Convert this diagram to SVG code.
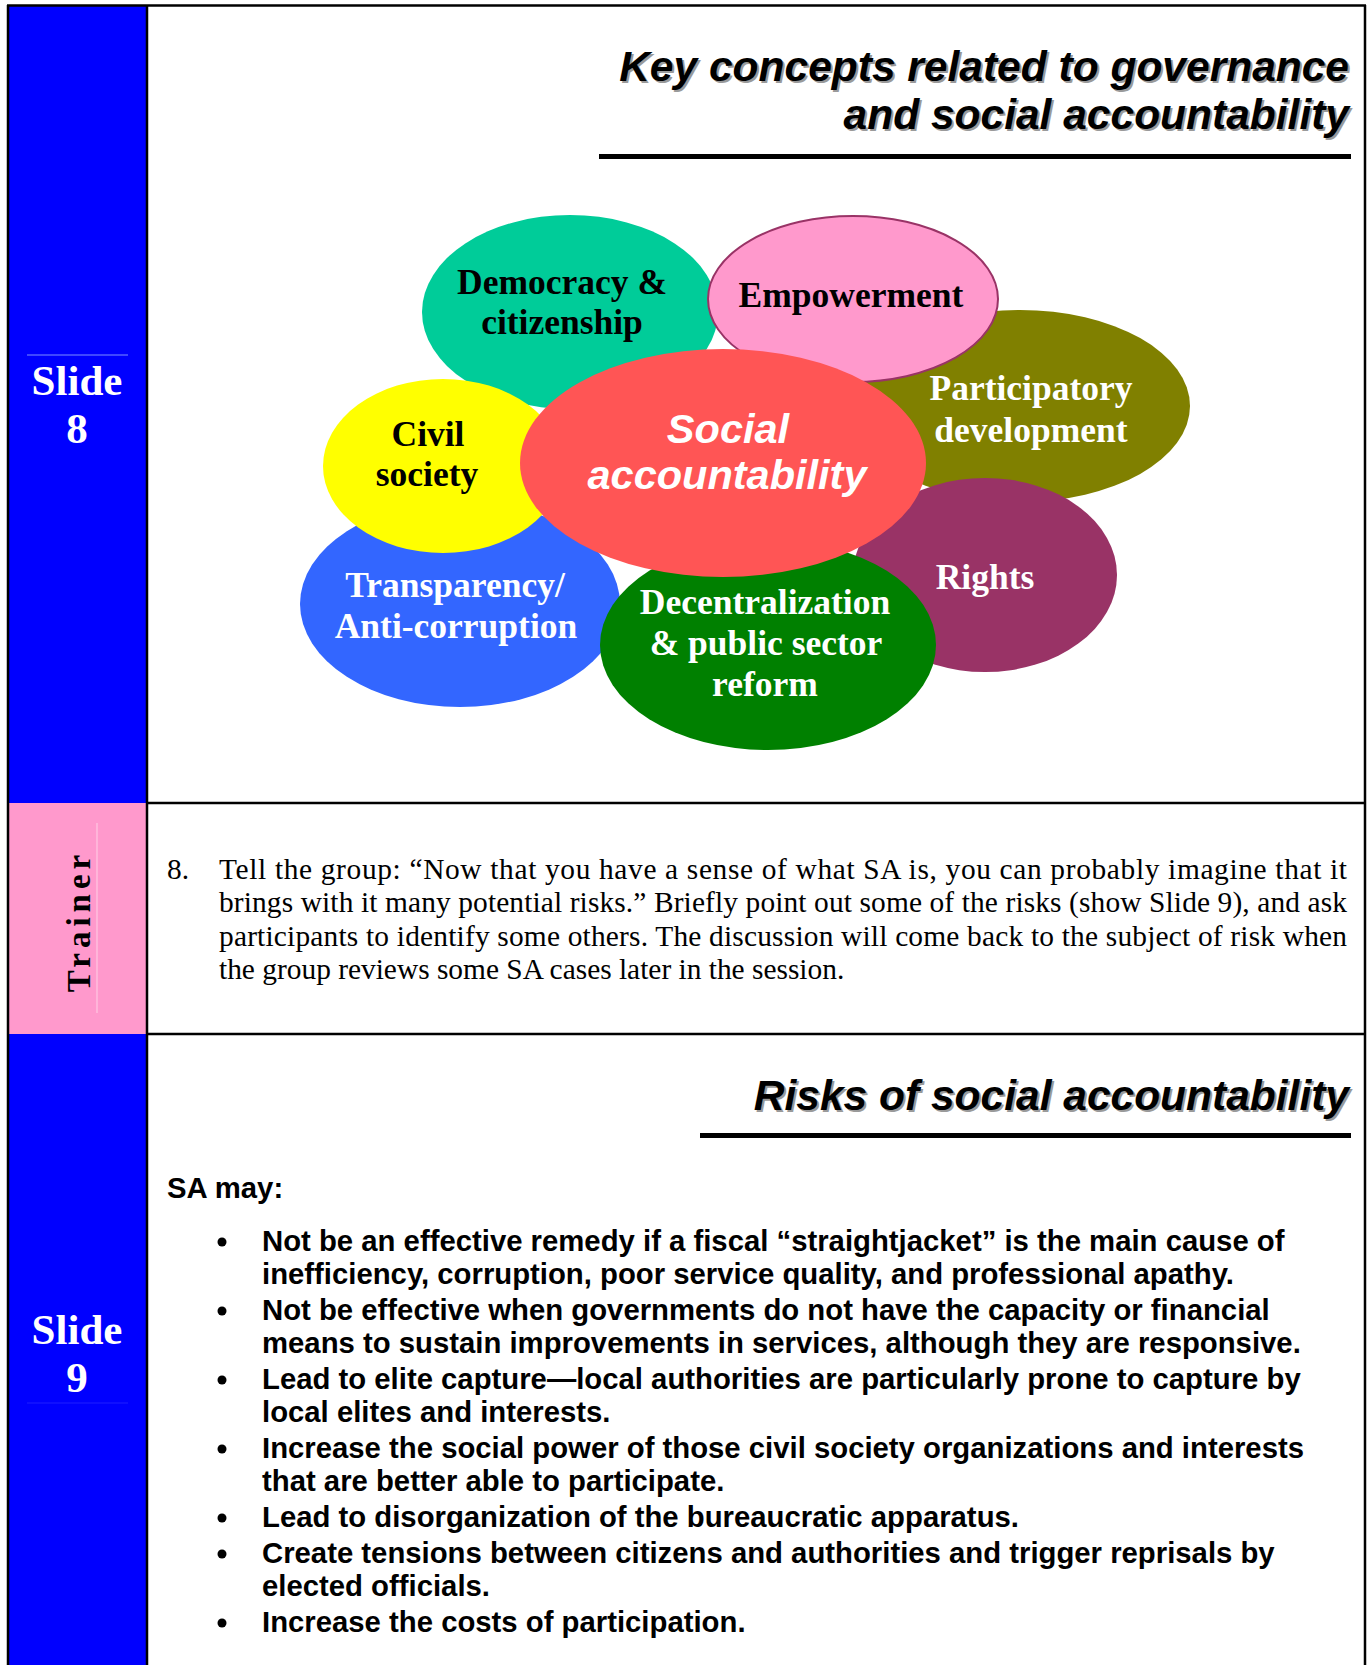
<svg xmlns="http://www.w3.org/2000/svg" width="1371" height="1665" viewBox="0 0 1371 1665">
<style>
.title{font-family:"Liberation Sans",Arial,sans-serif;font-weight:bold;font-style:italic;font-size:42.5px;text-anchor:end}
.tshadow{fill:#9a9a9a}
.tmain{fill:#000}
.slide{font-family:"Liberation Serif","Times New Roman",serif;font-weight:bold;font-size:43px;fill:#fff;text-anchor:middle}
.lbl{font-family:"Liberation Serif","Times New Roman",serif;font-weight:bold;font-size:35.5px;text-anchor:middle}
.center{font-family:"Liberation Sans",Arial,sans-serif;font-weight:bold;font-style:italic;font-size:41.5px;fill:#fff;text-anchor:middle}
.para{font-family:"Liberation Serif","Times New Roman",serif;font-size:29.4px;fill:#000}
.bul{font-family:"Liberation Sans",Arial,sans-serif;font-weight:bold;font-size:29.3px;fill:#000}
.rule{fill:#000}
.frame{stroke:#000;stroke-width:2.5;fill:none}
</style>

<!-- label column backgrounds -->
<g id="labels">
  <rect x="8" y="5" width="139" height="798" fill="#0000FF"/>
  <rect x="8" y="803" width="139" height="231" fill="#FF99CC"/>
  <rect x="8" y="1034" width="139" height="640" fill="#0000FF"/>
  <line x1="27" y1="355" x2="128" y2="355" stroke="#7f8fff" stroke-width="1"/>
  <line x1="27" y1="1403" x2="128" y2="1403" stroke="#1e1eff" stroke-width="1"/>
  <line x1="97" y1="823" x2="97" y2="1013" stroke="#ffd0e6" stroke-width="1"/>
  <text class="slide" x="77" y="395">Slide</text>
  <text class="slide" x="77" y="443">8</text>
  <text class="slide" x="77" y="1344">Slide</text>
  <text class="slide" x="77" y="1392">9</text>
  <text transform="translate(90,921) rotate(-90)" text-anchor="middle" style="font-family:'Liberation Serif','Times New Roman',serif;font-weight:bold;font-size:33px;letter-spacing:5px;fill:#000">Trainer</text>
</g>

<!-- frame -->
<g id="frame">
  <line class="frame" x1="7" y1="5.5" x2="1366" y2="5.5"/>
  <line class="frame" x1="8" y1="5" x2="8" y2="1665"/>
  <line class="frame" x1="1365" y1="5" x2="1365" y2="1665"/>
  <line class="frame" x1="147" y1="5" x2="147" y2="1665"/>
  <line class="frame" x1="147" y1="803" x2="1366" y2="803"/>
  <line class="frame" x1="147" y1="1034" x2="1366" y2="1034"/>
</g>

<!-- slide 8 title -->
<g id="title8">
  <text class="title tshadow" x="1351" y="83">Key concepts related to governance</text>
  <text class="title tmain" x="1349" y="81">Key concepts related to governance</text>
  <text class="title tshadow" x="1351" y="131">and social accountability</text>
  <text class="title tmain" x="1349" y="129">and social accountability</text>
  <rect class="rule" x="599" y="154" width="752" height="5"/>
</g>

<!-- concept diagram -->
<g id="node-democracy">
  <ellipse cx="570" cy="312" rx="148" ry="97" fill="#00CC99"/>
</g>
<g id="node-participatory">
  <ellipse cx="1020" cy="406" rx="170" ry="96" fill="#808000"/>
</g>
<g id="node-empowerment">
  <ellipse cx="853" cy="299" rx="145" ry="83" fill="#FF99CC" stroke="#993366" stroke-width="2"/>
</g>
<g id="node-rights">
  <ellipse cx="985" cy="575" rx="132" ry="97" fill="#993366"/>
</g>
<g id="node-transparency">
  <ellipse cx="460" cy="604" rx="160" ry="103" fill="#3366FF"/>
</g>
<g id="node-civil">
  <ellipse cx="443" cy="466" rx="120" ry="87" fill="#FFFF00"/>
</g>
<g id="node-decentralization">
  <ellipse cx="768" cy="645" rx="168" ry="105" fill="#008000"/>
</g>
<g id="node-social">
  <ellipse cx="723" cy="463" rx="203" ry="114" fill="#FF5555"/>
</g>

<g id="node-labels">
  <text class="lbl" x="562" y="294" fill="#000">Democracy &amp;</text>
  <text class="lbl" x="562" y="334" fill="#000">citizenship</text>
  <text class="lbl" x="851" y="307" fill="#000">Empowerment</text>
  <text class="lbl" x="1031" y="400" fill="#fff">Participatory</text>
  <text class="lbl" x="1031" y="442" fill="#fff">development</text>
  <text class="lbl" x="428" y="446" fill="#000">Civil</text>
  <text class="lbl" x="427" y="486" fill="#000">society</text>
  <text class="center" x="728" y="443">Social</text>
  <text class="center" x="727" y="489">accountability</text>
  <text class="lbl" x="455" y="597" fill="#fff">Transparency/</text>
  <text class="lbl" x="456" y="638" fill="#fff">Anti-corruption</text>
  <text class="lbl" x="765" y="614" fill="#fff">Decentralization</text>
  <text class="lbl" x="766" y="655" fill="#fff">&amp; public sector</text>
  <text class="lbl" x="765" y="696" fill="#fff">reform</text>
  <text class="lbl" x="985" y="589" fill="#fff">Rights</text>
</g>

<!-- trainer paragraph -->
<g id="trainer-text">
  <text class="para" x="167" y="879">8.</text>
  <text class="para" x="219" y="879" textLength="1128" lengthAdjust="spacing">Tell the group: “Now that you have a sense of what SA is, you can probably imagine that it</text>
  <text class="para" x="219" y="912" textLength="1128" lengthAdjust="spacing">brings with it many potential risks.” Briefly point out some of the risks (show Slide 9), and ask</text>
  <text class="para" x="219" y="946" textLength="1128" lengthAdjust="spacing">participants to identify some others. The discussion will come back to the subject of risk when</text>
  <text class="para" x="219" y="979">the group reviews some SA cases later in the session.</text>
</g>

<!-- slide 9 -->
<g id="title9">
  <text class="title tshadow" x="1351" y="1112">Risks of social accountability</text>
  <text class="title tmain" x="1349" y="1110">Risks of social accountability</text>
  <rect class="rule" x="700" y="1133" width="651" height="5"/>
</g>

<g id="risks">
  <text class="bul" x="167" y="1198">SA may:</text>
  <g fill="#000">
    <circle cx="222" cy="1242" r="4.5"/>
    <circle cx="222" cy="1311" r="4.5"/>
    <circle cx="222" cy="1380" r="4.5"/>
    <circle cx="222" cy="1449" r="4.5"/>
    <circle cx="222" cy="1518" r="4.5"/>
    <circle cx="222" cy="1554" r="4.5"/>
    <circle cx="222" cy="1623" r="4.5"/>
  </g>
  <text class="bul" x="262" y="1251">Not be an effective remedy if a fiscal “straightjacket” is the main cause of</text>
  <text class="bul" x="262" y="1284">inefficiency, corruption, poor service quality, and professional apathy.</text>
  <text class="bul" x="262" y="1320">Not be effective when governments do not have the capacity or financial</text>
  <text class="bul" x="262" y="1353">means to sustain improvements in services, although they are responsive.</text>
  <text class="bul" x="262" y="1389">Lead to elite capture—local authorities are particularly prone to capture by</text>
  <text class="bul" x="262" y="1422">local elites and interests.</text>
  <text class="bul" x="262" y="1458">Increase the social power of those civil society organizations and interests</text>
  <text class="bul" x="262" y="1491">that are better able to participate.</text>
  <text class="bul" x="262" y="1527">Lead to disorganization of the bureaucratic apparatus.</text>
  <text class="bul" x="262" y="1563">Create tensions between citizens and authorities and trigger reprisals by</text>
  <text class="bul" x="262" y="1596">elected officials.</text>
  <text class="bul" x="262" y="1632">Increase the costs of participation.</text>
</g>
</svg>
